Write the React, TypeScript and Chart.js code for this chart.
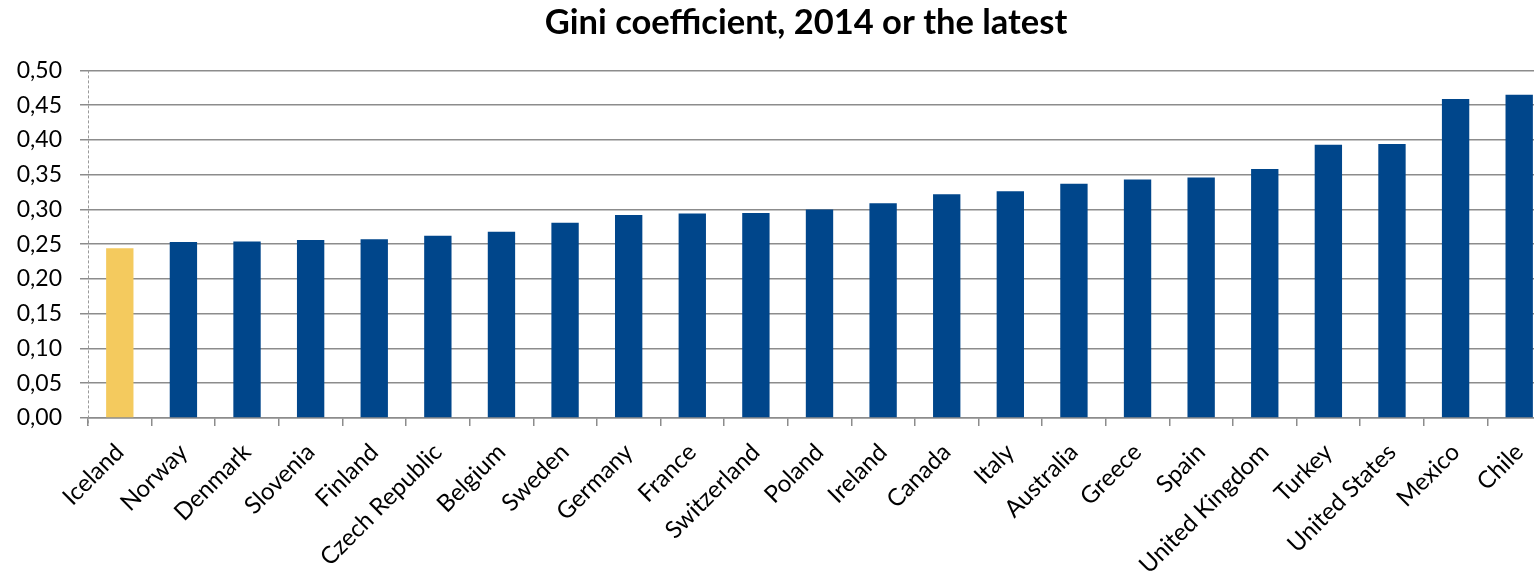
import React, { useEffect, useRef } from "react";
import { Chart, registerables } from "chart.js";

Chart.register(...registerables);

const categories = [
  "Iceland", "Norway", "Denmark", "Slovenia", "Finland", "Czech Republic",
  "Belgium", "Sweden", "Germany", "France", "Switzerland", "Poland",
  "Ireland", "Canada", "Italy", "Australia", "Greece", "Spain",
  "United Kingdom", "Turkey", "United States", "Mexico", "Chile",
];
const giniValues = [
  0.244, 0.253, 0.254, 0.256, 0.257, 0.262,
  0.268, 0.281, 0.292, 0.294, 0.295, 0.300,
  0.309, 0.322, 0.326, 0.337, 0.343, 0.346,
  0.358, 0.393, 0.394, 0.459, 0.465,
];
const highlighted = "Iceland";
const titleText = "Gini coefficient, 2014 or the latest";
const yMin = 0;
const yMax = 0.5;
const yStep = 0.05;

const BLUE = "#00468b";
const YELLOW = "#f4ca5e";
const GRID = "#8c8c8c";
const FONT = "Lato, 'Noto Sans', sans-serif";

const dashedYAxis = {
  id: "dashedYAxis",
  afterDraw(chart: any) {
    const { ctx, chartArea } = chart;
    ctx.save();
    ctx.strokeStyle = "#9a9a9a";
    ctx.lineWidth = 1;
    ctx.setLineDash([3, 2]);
    ctx.beginPath();
    const x = Math.round(chartArea.left) + 0.5;
    ctx.moveTo(x, chartArea.top);
    ctx.lineTo(x, chartArea.bottom + 8);
    ctx.stroke();
    ctx.restore();
  },
};

export default function App() {
  const canvasRef = useRef<HTMLCanvasElement | null>(null);

  useEffect(() => {
    if (!canvasRef.current) return;
    const chart = new Chart(canvasRef.current, {
      type: "bar",
      data: {
        labels: categories,
        datasets: [
          {
            data: giniValues,
            backgroundColor: categories.map((c) => (c === highlighted ? YELLOW : BLUE)),
            borderWidth: 0,
            categoryPercentage: 1,
            barPercentage: 0.43,
          },
        ],
      },
      options: {
        animation: false,
        responsive: false,
        maintainAspectRatio: false,
        layout: { padding: 0 },
        plugins: {
          legend: { display: false },
          tooltip: { enabled: false },
          title: {
            display: true,
            text: titleText,
            color: "#000",
            font: { family: FONT, size: 34.5, weight: "bold" },
            padding: { top: 2, bottom: 27 },
          },
        },
        scales: {
          x: {
            grid: {
              display: true,
              drawOnChartArea: false,
              drawTicks: true,
              tickLength: 8,
              color: GRID,
              lineWidth: 1.5,
              offset: true,
            },
            border: { display: true, color: GRID, width: 1.5 },
            ticks: {
              color: "#000",
              font: { family: FONT, size: 24 },
              maxRotation: 45,
              minRotation: 45,
              autoSkip: false,
              padding: 12,
            },
            afterFit: (scale: any) => {
              scale.height = 156;
            },
          },
          y: {
            min: yMin,
            max: yMax,
            grid: {
              color: GRID,
              lineWidth: 1.5,
              drawTicks: true,
              tickLength: 8,
            },
            border: { display: false },
            ticks: {
              stepSize: yStep,
              color: "#000",
              font: { family: FONT, size: 23 },
              padding: 18,
              callback: (v: any) => Number(v).toFixed(2).replace(".", ","),
            },
            afterFit: (scale: any) => {
              scale.width = 88;
            },
          },
          spacer: {
            type: "linear",
            position: "right",
            display: true,
            grid: { display: false, drawTicks: false },
            border: { display: false },
            ticks: { display: false },
            afterFit: (scale: any) => {
              scale.width = 61;
            },
          },
        },
      },
      plugins: [dashedYAxis],
    });
    return () => chart.destroy();
  }, []);

  return (
    <div
      style={{
        position: "absolute",
        left: 0,
        top: 0,
        width: 1534,
        height: 574,
        overflow: "hidden",
        background: "#fff",
      }}
    >
      <canvas ref={canvasRef} width={1612} height={574} style={{ display: "block" }} />
    </div>
  );
}
